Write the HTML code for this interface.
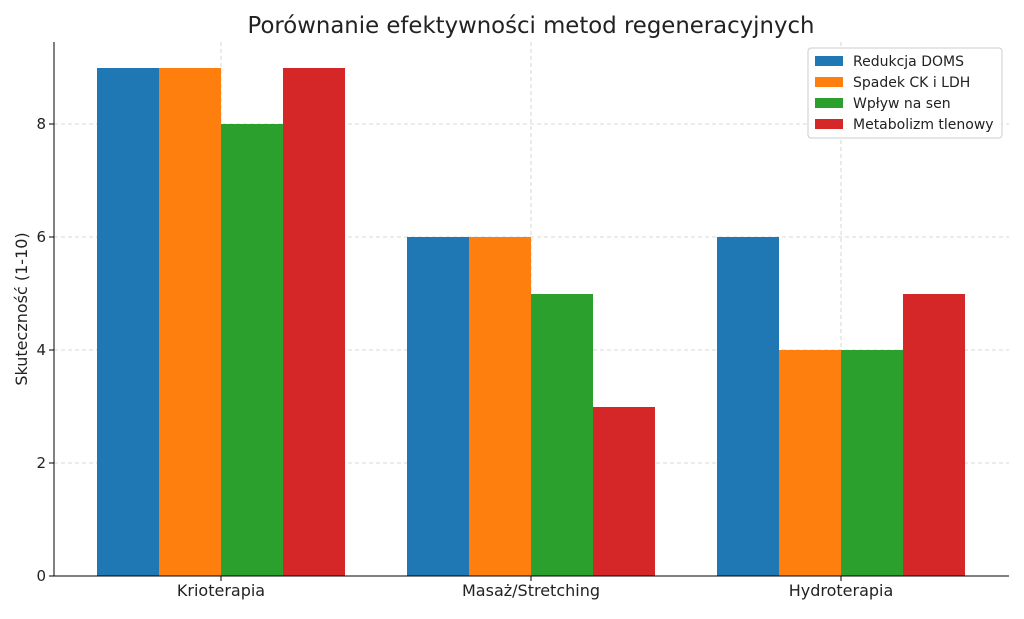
<!DOCTYPE html>
<html><head><meta charset="utf-8"><style>
body{margin:0;background:#fff;}
svg text{font-family:"DejaVu Sans","Liberation Sans",sans-serif;fill:#222;}
</style></head><body>
<svg width="1024" height="614" viewBox="0 0 1024 614" xmlns="http://www.w3.org/2000/svg">
<rect width="1024" height="614" fill="#fff"/>
<text x="531" y="33" font-size="22.8" text-anchor="middle">Porównanie efektywności metod regeneracyjnych</text>
<g stroke="#ccc" stroke-dasharray="4,3" stroke-width="0.8">
<line x1="54" x2="1009" y1="124" y2="124"/>
<line x1="54" x2="1009" y1="237" y2="237"/>
<line x1="54" x2="1009" y1="350" y2="350"/>
<line x1="54" x2="1009" y1="463" y2="463"/>
<line x1="221" x2="221" y1="42" y2="576"/>
<line x1="531" x2="531" y1="42" y2="576"/>
<line x1="841" x2="841" y1="42" y2="576"/>
</g>
<g>
<rect x="97" y="68" width="62" height="508" fill="#1f77b4"/>
<rect x="159" y="68" width="62" height="508" fill="#ff7f0e"/>
<rect x="221" y="124" width="62" height="452" fill="#2ca02c"/>
<rect x="283" y="68" width="62" height="508" fill="#d62728"/>
<rect x="407" y="237" width="62" height="339" fill="#1f77b4"/>
<rect x="469" y="237" width="62" height="339" fill="#ff7f0e"/>
<rect x="531" y="294" width="62" height="282" fill="#2ca02c"/>
<rect x="593" y="407" width="62" height="169" fill="#d62728"/>
<rect x="717" y="237" width="62" height="339" fill="#1f77b4"/>
<rect x="779" y="350" width="62" height="226" fill="#ff7f0e"/>
<rect x="841" y="350" width="62" height="226" fill="#2ca02c"/>
<rect x="903" y="294" width="62" height="282" fill="#d62728"/>
</g>
<line x1="54" x2="54" y1="42" y2="576" stroke="#000"/>
<line x1="54" x2="1009" y1="576" y2="576" stroke="#000"/>
<g stroke="#000">
<line x1="49" x2="54" y1="576" y2="576"/><line x1="49" x2="54" y1="463" y2="463"/>
<line x1="49" x2="54" y1="350" y2="350"/><line x1="49" x2="54" y1="237" y2="237"/>
<line x1="49" x2="54" y1="124" y2="124"/>
<line x1="221" x2="221" y1="576" y2="581"/><line x1="531" x2="531" y1="576" y2="581"/><line x1="841" x2="841" y1="576" y2="581"/>
</g>
<g font-size="15" text-anchor="end">
<text x="46" y="581">0</text><text x="46" y="468">2</text><text x="46" y="355">4</text><text x="46" y="242">6</text><text x="46" y="129">8</text>
</g>
<g font-size="16" text-anchor="middle">
<text x="221" y="596">Krioterapia</text><text x="531" y="596">Masaż/Stretching</text><text x="841" y="596">Hydroterapia</text>
</g>
<text transform="translate(27,309) rotate(-90)" font-size="16" text-anchor="middle">Skuteczność (1-10)</text>
<rect x="808" y="48" width="194" height="90" fill="#fff" fill-opacity="0.8" stroke="#ccc" rx="3"/>
<g font-size="14">
<rect x="815" y="56" width="28" height="10" fill="#1f77b4"/><text x="853" y="66">Redukcja DOMS</text>
<rect x="815" y="77" width="28" height="10" fill="#ff7f0e"/><text x="853" y="87">Spadek CK i LDH</text>
<rect x="815" y="98" width="28" height="10" fill="#2ca02c"/><text x="853" y="108">Wpływ na sen</text>
<rect x="815" y="119" width="28" height="10" fill="#d62728"/><text x="853" y="129">Metabolizm tlenowy</text>
</g>
</svg>
</body></html>
